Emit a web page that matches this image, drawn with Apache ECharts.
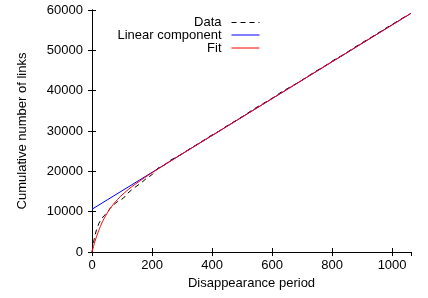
<!DOCTYPE html>
<html>
<head>
<meta charset="utf-8">
<script src="https://cdn.jsdelivr.net/npm/echarts@6/dist/echarts.min.js"></script>
<style>
html, body { margin: 0; padding: 0; background: #fff; }
#J_chart { width: 428px; height: 298px; }
</style>
</head>
<body>
<div id="J_chart"></div>
<script>
// data
var dataX = [0, 5, 10, 15, 23, 30, 40, 49, 60, 71, 85, 104, 118, 132, 150, 165, 182, 199,
    220, 240, 260, 280, 300, 330, 360, 390, 420, 450, 480, 510, 540, 570, 600, 630, 660,
    690, 720, 750, 780, 810, 840, 870, 900, 930, 960, 990, 1020, 1050];
var dataY = [0, 2300, 4200, 5500, 7100, 8000, 9000, 9600, 10800, 11650, 12500, 13300, 14500,
    15400, 16400, 17200, 18300, 19100, 20800, 21500, 22700, 23500, 24300, 25800, 27100,
    28600, 29800, 31300, 32600, 34000, 35500, 36800, 38100, 39600, 40900, 42100, 43600,
    45000, 46300, 47800, 49000, 50500, 51900, 53200, 54600, 56000, 57300, 58700];

var linearX = [0, 1063];
var linearY = [10600, 59180];

var fitX = [0, 5, 10, 15, 20, 25, 30, 35, 40, 50, 60, 70, 80, 90, 100, 115, 130, 150, 175,
    200, 250, 300, 400, 500, 600, 700, 800, 900, 1000, 1063];
var fitY = [0, 1390, 2660, 3810, 4860, 5820, 6700, 7500, 8250, 9570, 10720, 11720, 12600,
    13410, 14130, 15120, 16030, 17130, 18420, 19640, 21990, 24310, 28880, 33450, 38020,
    42590, 47160, 51730, 56300, 59180];

var xTicks = { min: 0, max: 1063, interval: 200 };
var yTicks = { min: 0, max: 60000, interval: 10000 };
var legendNames = ['Data', 'Linear component', 'Fit'];

function pairs(xs, ys) {
    var out = [];
    for (var i = 0; i < xs.length; i++) {
        out.push([xs[i], ys[i]]);
    }
    return out;
}

var fontFamily = '"Liberation Sans", Arial, sans-serif';
var chart = echarts.init(document.getElementById('J_chart'), null, { renderer: 'canvas' });

function makeLegend(name, top) {
    return {
        data: [name],
        orient: 'vertical',
        right: 168,
        top: top,
        align: 'right',
        itemWidth: 28,
        itemHeight: 10,
        padding: 0,
        selectedMode: false,
        itemStyle: { opacity: 0 },
        lineStyle: { width: 1 },
        textStyle: {
            fontFamily: fontFamily,
            fontSize: 13,
            color: '#000',
            padding: [0, 5, 0, 0]
        }
    };
}

var axisCommon = {
    axisLine: { show: true, lineStyle: { color: '#000', width: 1 } },
    axisTick: { show: true, inside: true, length: 4, lineStyle: { color: '#000' } },
    splitLine: { show: false }
};

var plainNum = function (v) { return String(v); };

var option = {
    animation: false,
    backgroundColor: '#fff',
    grid: { left: 92, right: 17, top: 10, bottom: 46, containLabel: false },
    legend: [
        makeLegend(legendNames[0], 16),
        makeLegend(legendNames[1], 28.5),
        makeLegend(legendNames[2], 41.5)
    ],
    xAxis: [
        Object.assign({
            type: 'value',
            position: 'bottom',
            min: xTicks.min,
            max: xTicks.max,
            interval: xTicks.interval,
            name: 'Disappearance period',
            nameLocation: 'middle',
            nameGap: 25,
            nameTextStyle: { fontFamily: fontFamily, fontSize: 13, color: '#000' },
            axisLabel: {
                fontFamily: fontFamily, fontSize: 13, color: '#000', margin: 7,
                showMaxLabel: false, formatter: plainNum
            }
        }, axisCommon),
        Object.assign({
            type: 'value',
            position: 'top',
            min: xTicks.min,
            max: xTicks.max,
            interval: xTicks.interval,
            axisLabel: { show: false }
        }, axisCommon)
    ],
    yAxis: [
        Object.assign({
            type: 'value',
            position: 'left',
            min: yTicks.min,
            max: yTicks.max,
            interval: yTicks.interval,
            name: 'Cumulative number of links',
            nameLocation: 'middle',
            nameGap: 63,
            nameTextStyle: { fontFamily: fontFamily, fontSize: 13, color: '#000' },
            axisLabel: {
                fontFamily: fontFamily, fontSize: 13, color: '#000', margin: 9,
                formatter: plainNum
            }
        }, axisCommon),
        Object.assign({
            type: 'value',
            position: 'right',
            min: yTicks.min,
            max: yTicks.max,
            interval: yTicks.interval,
            axisLabel: { show: false }
        }, axisCommon)
    ],
    series: [
        {
            name: legendNames[0],
            type: 'line',
            symbol: 'none',
            color: '#000',
            lineStyle: { color: '#000', width: 1, type: [5, 4] },
            data: pairs(dataX, dataY)
        },
        {
            name: legendNames[1],
            type: 'line',
            symbol: 'none',
            color: '#0000ff',
            lineStyle: { color: '#0000ff', width: 1 },
            data: pairs(linearX, linearY)
        },
        {
            name: legendNames[2],
            type: 'line',
            symbol: 'none',
            smooth: 0.3,
            color: '#ff0000',
            lineStyle: { color: '#ff0000', width: 1 },
            data: pairs(fitX, fitY)
        }
    ]
};

chart.setOption(option);
</script>
</body>
</html>
